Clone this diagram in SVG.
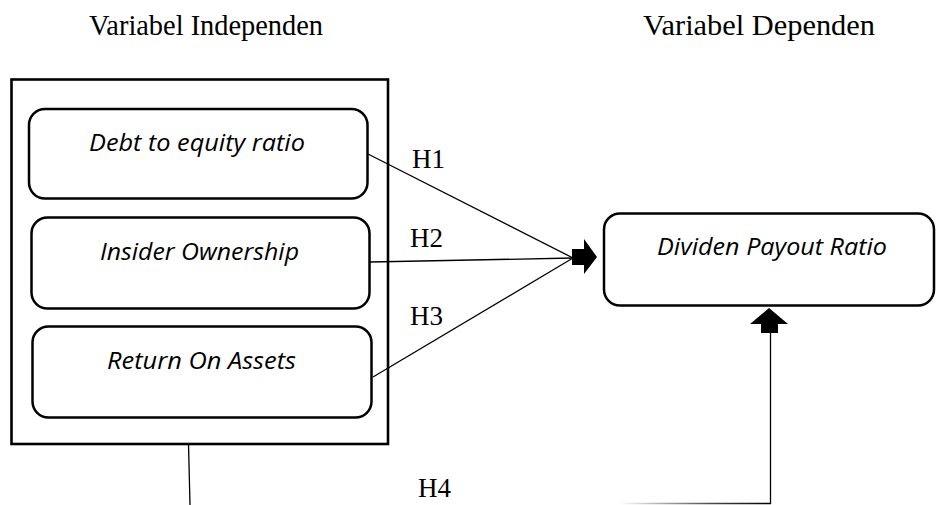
<svg xmlns="http://www.w3.org/2000/svg" width="936" height="505" viewBox="0 0 936 505">
  <style>
    .box { fill: #ffffff; stroke: #000000; stroke-width: 2.5; }
    .frame { fill: none; stroke: #000000; stroke-width: 2.6; }
    .var { font-family: "Open Sans", "Liberation Sans", sans-serif; font-style: italic; font-size: 23px; fill: #000000; }
    .head { font-family: "Liberation Serif", serif; font-size: 29px; fill: #000000; }
    .lbl { font-family: "Liberation Serif", serif; font-size: 27px; fill: #000000; }
    .link { fill: none; stroke: #000000; stroke-width: 1.3; }
    .tip { fill: #000000; stroke: none; }
  </style>
  <defs>
    <linearGradient id="fade" x1="620" y1="0" x2="771" y2="0" gradientUnits="userSpaceOnUse">
      <stop offset="0" stop-color="#000000" stop-opacity="0"/>
      <stop offset="0.6" stop-color="#000000" stop-opacity="0.7"/>
      <stop offset="1" stop-color="#000000" stop-opacity="1"/>
    </linearGradient>
  </defs>
  <rect width="936" height="505" fill="#ffffff"/>

  <!-- column headings -->
  <text class="head" x="89" y="35" textLength="234" lengthAdjust="spacingAndGlyphs">Variabel Independen</text>
  <text class="head" x="643" y="35" textLength="232" lengthAdjust="spacingAndGlyphs">Variabel Dependen</text>

  <!-- independent variables frame -->
  <g id="independent-group">
    <rect class="frame" x="11.5" y="79.5" width="376.5" height="364.5"/>
  </g>

  <g id="node-der">
    <rect class="box" x="29" y="109" width="338.5" height="89.5" rx="16"/>
    <text class="var" x="89" y="151" textLength="216" lengthAdjust="spacingAndGlyphs">Debt to equity ratio</text>
  </g>
  <g id="node-io">
    <rect class="box" x="31.5" y="217.5" width="338" height="91" rx="16"/>
    <text class="var" x="100" y="260" textLength="199" lengthAdjust="spacingAndGlyphs">Insider Ownership</text>
  </g>
  <g id="node-roa">
    <rect class="box" x="32.5" y="326.5" width="339" height="91" rx="16"/>
    <text class="var" x="107" y="369" textLength="189" lengthAdjust="spacingAndGlyphs">Return On Assets</text>
  </g>

  <g id="node-dpr">
    <rect class="box" x="604" y="213.5" width="330" height="92" rx="16"/>
    <text class="var" x="657" y="255" textLength="230" lengthAdjust="spacingAndGlyphs">Dividen Payout Ratio</text>
  </g>

  <!-- connectors -->
  <g id="connectors">
    <line class="link" x1="368" y1="154" x2="573" y2="258"/>
    <line class="link" x1="370" y1="262" x2="573" y2="258"/>
    <line class="link" x1="373" y1="377" x2="573" y2="258"/>
    <polygon class="tip" points="572,249 584,249 584,239 597,257 584,274 584,265 572,265"/>

    <line class="link" x1="188.5" y1="444" x2="190" y2="505"/>
    <line x1="620" y1="503.5" x2="771" y2="503.5" stroke="url(#fade)" stroke-width="1.6"/>
    <line class="link" x1="770.5" y1="504" x2="770.5" y2="333"/>
    <polygon class="tip" points="761,333 761,324 750,324 769,308 788,324 778,324 778,333"/>

    <text class="lbl" x="412" y="168">H1</text>
    <text class="lbl" x="410" y="247">H2</text>
    <text class="lbl" x="410" y="325">H3</text>
    <text class="lbl" x="418" y="497">H4</text>
  </g>
</svg>
